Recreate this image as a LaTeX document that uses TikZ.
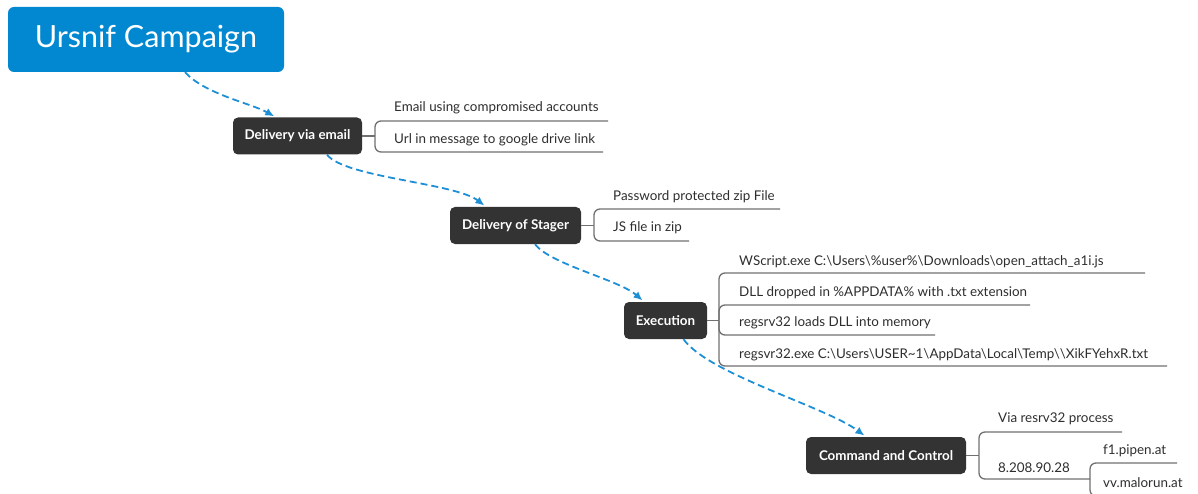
\documentclass[tikz,border=0pt]{standalone}
\usepackage{fontspec}
\setmainfont{Lato}
\usetikzlibrary{arrows.meta}
\definecolor{titleblue}{HTML}{0288D1}
\definecolor{darkbox}{HTML}{333333}
\definecolor{arrowblue}{HTML}{1E8FD5}
\definecolor{linegray}{HTML}{707070}
\definecolor{leafgray}{HTML}{2E2E2E}
\begin{document}
\begin{tikzpicture}[x=1pt,y=-1pt,
  titlebox/.style={fill=titleblue, rounded corners=6pt, text=white, inner sep=0pt,
    minimum width=276pt, minimum height=65pt, font=\fontsize{30.5}{32}\selectfont},
  topic/.style={fill=darkbox, rounded corners=5pt, text=white, inner sep=0pt,
    minimum height=37pt, font=\fontsize{13.4}{15}\selectfont\bfseries},
  leaf/.style={anchor=west, inner sep=0pt, text=leafgray, font=\fontsize{13.4}{15}\selectfont},
  branch/.style={draw=linegray, line width=1.3pt, rounded corners=6pt},
  flow/.style={draw=arrowblue, line width=1.8pt, dash pattern=on 7pt off 4pt,
    -{Latex[length=9pt,width=8pt]}, shorten >=2pt}
]
\useasboundingbox (0,0) rectangle (1198,494);
\clip (0,0) rectangle (1198,494);

% title
\node[titlebox] (title) at (146,39.5) {Ursnif Campaign};

% Delivery via email
\node[topic, minimum width=129pt] (email) at (297.5,136) {Delivery via email};
\coordinate (emailB) at (375,136);
\coordinate (e1) at (608,121);
\coordinate (e2) at (603,152);
\draw[branch] (email.east) -- (emailB);
\draw[branch] (emailB) |- (e1);
\draw[branch] (emailB) |- (e2);
\node[leaf] (e1t) at (394,108) {Email using compromised accounts};
\node[leaf] (e2t) at (394,140) {Url in message to google drive link};

% Delivery of Stager
\node[topic, minimum width=131pt] (stager) at (515.5,225.5) {Delivery of Stager};
\coordinate (stagerB) at (594,225.5);
\coordinate (s1) at (780,209);
\coordinate (s2) at (689,241);
\draw[branch] (stager.east) -- (stagerB);
\draw[branch] (stagerB) |- (s1);
\draw[branch] (stagerB) |- (s2);
\node[leaf] (s1t) at (613,197) {Password protected zip File};
\node[leaf] (s2t) at (613,228) {JS file in zip};

% Execution
\node[topic, minimum width=83pt] (exec) at (665.5,320.5) {Execution};
\coordinate (execB) at (719,320.5);
\coordinate (x1) at (1145,273);
\coordinate (x2) at (1030,305);
\coordinate (x3) at (935,335);
\coordinate (x4) at (1167,366);
\draw[branch] (exec.east) -- (execB);
\draw[branch] (execB) |- (x1);
\draw[branch] (execB) |- (x2);
\draw[branch] (execB) |- (x3);
\draw[branch] (execB) |- (x4);
\node[leaf] (x1t) at (739,262) {WScript.exe C:\textbackslash Users\textbackslash\%user\%\textbackslash Downloads\textbackslash open\_attach\_a1i.js};
\node[leaf] (x2t) at (739,293) {DLL dropped in \%APPDATA\% with .txt extension};
\node[leaf] (x3t) at (739,323) {regsrv32 loads DLL into memory};
\node[leaf] (x4t) at (739,355) {regsvr32.exe C:\textbackslash Users\textbackslash USER\textasciitilde 1\textbackslash AppData\textbackslash Local\textbackslash Temp\textbackslash\textbackslash XikFYehxR.txt};

% Command and Control
\node[topic, minimum width=160pt] (cc) at (886,455.5) {Command and Control};
\coordinate (ccB) at (979,455.5);
\coordinate (c1) at (1122,432);
\coordinate (c2) at (1090,479);
\coordinate (f1) at (1177,463);
\coordinate (vv) at (1177,496);
\draw[branch] (cc.east) -- (ccB);
\draw[branch] (ccB) |- (c1);
\draw[branch] (ccB) |- (c2);
\draw[branch] (c2) |- (f1);
\draw[branch] (c2) |- (vv);
\node[leaf] (c1t) at (998,419) {Via resrv32 process};
\node[leaf] (c2t) at (998,468) {8.208.90.28};
\node[leaf] (f1t) at (1103,451) {f1.pipen.at};
\node[leaf] (vvt) at (1103,483) {vv.malorun.at};

% flow arrows
\draw[flow] ([xshift=39pt]title.south) .. controls +(20,22) and +(-25,-14) .. ([xshift=-21.5pt]email.north);
\draw[flow] ([xshift=29.5pt]email.south) .. controls +(18,23) and +(-31,-24) .. ([xshift=-29.5pt]stager.north);
\draw[flow] ([xshift=19.5pt]stager.south) .. controls +(15,20) and +(-25,-22) .. ([xshift=-21.5pt]exec.north);
\draw[flow] ([xshift=18pt]exec.south) .. controls +(25,35) and +(-40,-30) .. ([xshift=-20pt]cc.north);
\end{tikzpicture}
\end{document}
